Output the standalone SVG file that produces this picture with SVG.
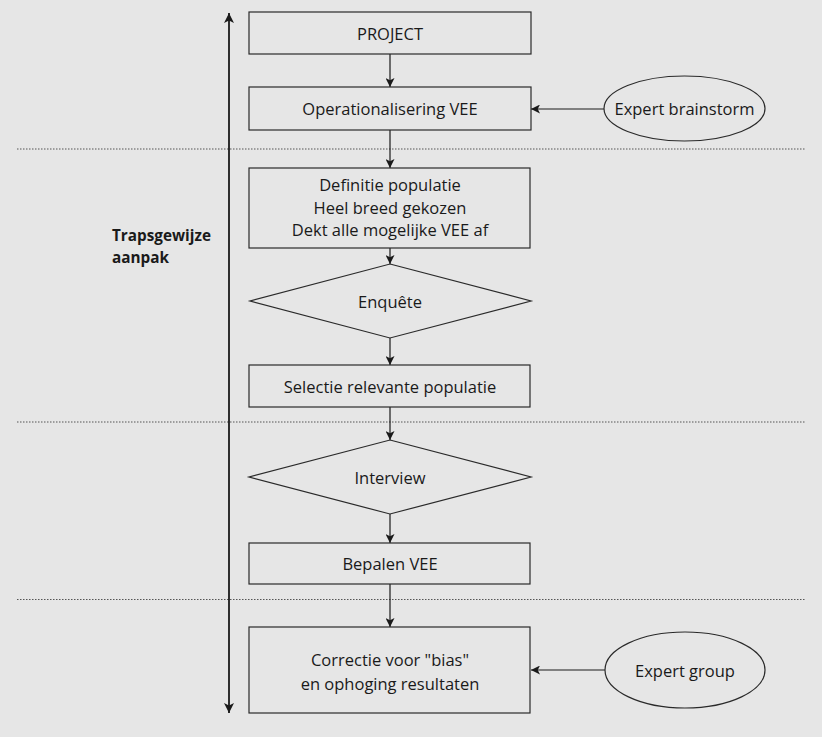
<svg xmlns="http://www.w3.org/2000/svg" width="822" height="737" viewBox="0 0 822 737">
<defs>
<marker id="ah" viewBox="0 0 10 10" refX="10" refY="5" markerWidth="9" markerHeight="9" markerUnits="userSpaceOnUse" orient="auto">
<path d="M0,0 L10,5 L0,10 L2.5,5 Z" fill="#1a1a1a"/>
</marker>
<marker id="ahb" viewBox="0 0 10 10" refX="10" refY="5" markerWidth="10" markerHeight="10" markerUnits="userSpaceOnUse" orient="auto-start-reverse">
<path d="M0,0 L10,5 L0,10 L2.5,5 Z" fill="#1a1a1a"/>
</marker>
</defs>
<style>
.bg{fill:#e6e6e6}
.box{fill:#e6e6e6;stroke:#2a2a2a;stroke-width:1.2}
.t{font-family:"Open Sans","Liberation Sans",sans-serif;font-size:16.5px;fill:#1a1a1a;text-anchor:middle;dominant-baseline:central}
.b{font-family:"Open Sans","Liberation Sans",sans-serif;font-size:15.3px;font-weight:bold;fill:#1a1a1a}
.c{stroke:#1a1a1a;stroke-width:1.2;fill:none;marker-end:url(#ah)}
.dot{stroke:#555;stroke-width:1;stroke-dasharray:1.5,1.5;fill:none}
</style>
<rect class="bg" x="0" y="0" width="822" height="737"/>
<g id="separators">
<line class="dot" x1="17" y1="149" x2="805" y2="149"/>
<line class="dot" x1="17" y1="422" x2="805" y2="422"/>
<line class="dot" x1="17" y1="599.5" x2="805" y2="599.5"/>
</g>
<g id="side-label">
<line x1="229" y1="713" x2="229" y2="13" stroke="#1a1a1a" stroke-width="1.8" marker-start="url(#ahb)" marker-end="url(#ahb)"/>
<text class="b" x="112" y="241">Trapsgewijze</text>
<text class="b" x="112" y="263">aanpak</text>
</g>
<g id="connectors">
<line class="c" x1="390" y1="54" x2="390" y2="87"/>
<line class="c" x1="604" y1="109" x2="531" y2="109"/>
<line class="c" x1="390" y1="130" x2="390" y2="168"/>
<line class="c" x1="390" y1="248" x2="390" y2="264"/>
<line class="c" x1="390" y1="338" x2="390" y2="365"/>
<line class="c" x1="390" y1="407" x2="390" y2="440"/>
<line class="c" x1="390" y1="514" x2="390" y2="543"/>
<line class="c" x1="390" y1="584" x2="390" y2="627"/>
<line class="c" x1="605" y1="670" x2="531" y2="670"/>
</g>
<g id="project">
<rect class="box" x="249" y="12" width="282" height="42"/>
<text class="t" x="390" y="33">PROJECT</text>
</g>
<g id="operationalisering">
<rect class="box" x="249" y="87" width="282" height="43"/>
<text class="t" x="390" y="108.5">Operationalisering VEE</text>
</g>
<g id="expert-brainstorm">
<ellipse class="box" cx="684.5" cy="108.5" rx="80.5" ry="32.5"/>
<text class="t" x="684.5" y="108.5">Expert brainstorm</text>
</g>
<g id="definitie">
<rect class="box" x="249" y="168" width="281" height="80"/>
<text class="t" x="390" y="184">Definitie populatie</text>
<text class="t" x="390" y="207">Heel breed gekozen</text>
<text class="t" x="390" y="229.5">Dekt alle mogelijke VEE af</text>
</g>
<g id="enquete">
<polygon class="box" points="390,264 531,301 390,338 250,301"/>
<text class="t" x="390" y="301">Enquête</text>
</g>
<g id="selectie">
<rect class="box" x="249" y="365" width="281" height="42"/>
<text class="t" x="390" y="386">Selectie relevante populatie</text>
</g>
<g id="interview">
<polygon class="box" points="390,440 531,477 390,514 249,477"/>
<text class="t" x="390" y="477">Interview</text>
</g>
<g id="bepalen">
<rect class="box" x="249" y="543" width="281" height="41"/>
<text class="t" x="390" y="563.5">Bepalen VEE</text>
</g>
<g id="correctie">
<rect class="box" x="249" y="627" width="281" height="86"/>
<text class="t" x="390" y="659.5">Correctie voor "bias"</text>
<text class="t" x="390" y="683.5">en ophoging resultaten</text>
</g>
<g id="expert-group">
<ellipse class="box" cx="685" cy="670" rx="80" ry="38"/>
<text class="t" x="685" y="670">Expert group</text>
</g>
</svg>
